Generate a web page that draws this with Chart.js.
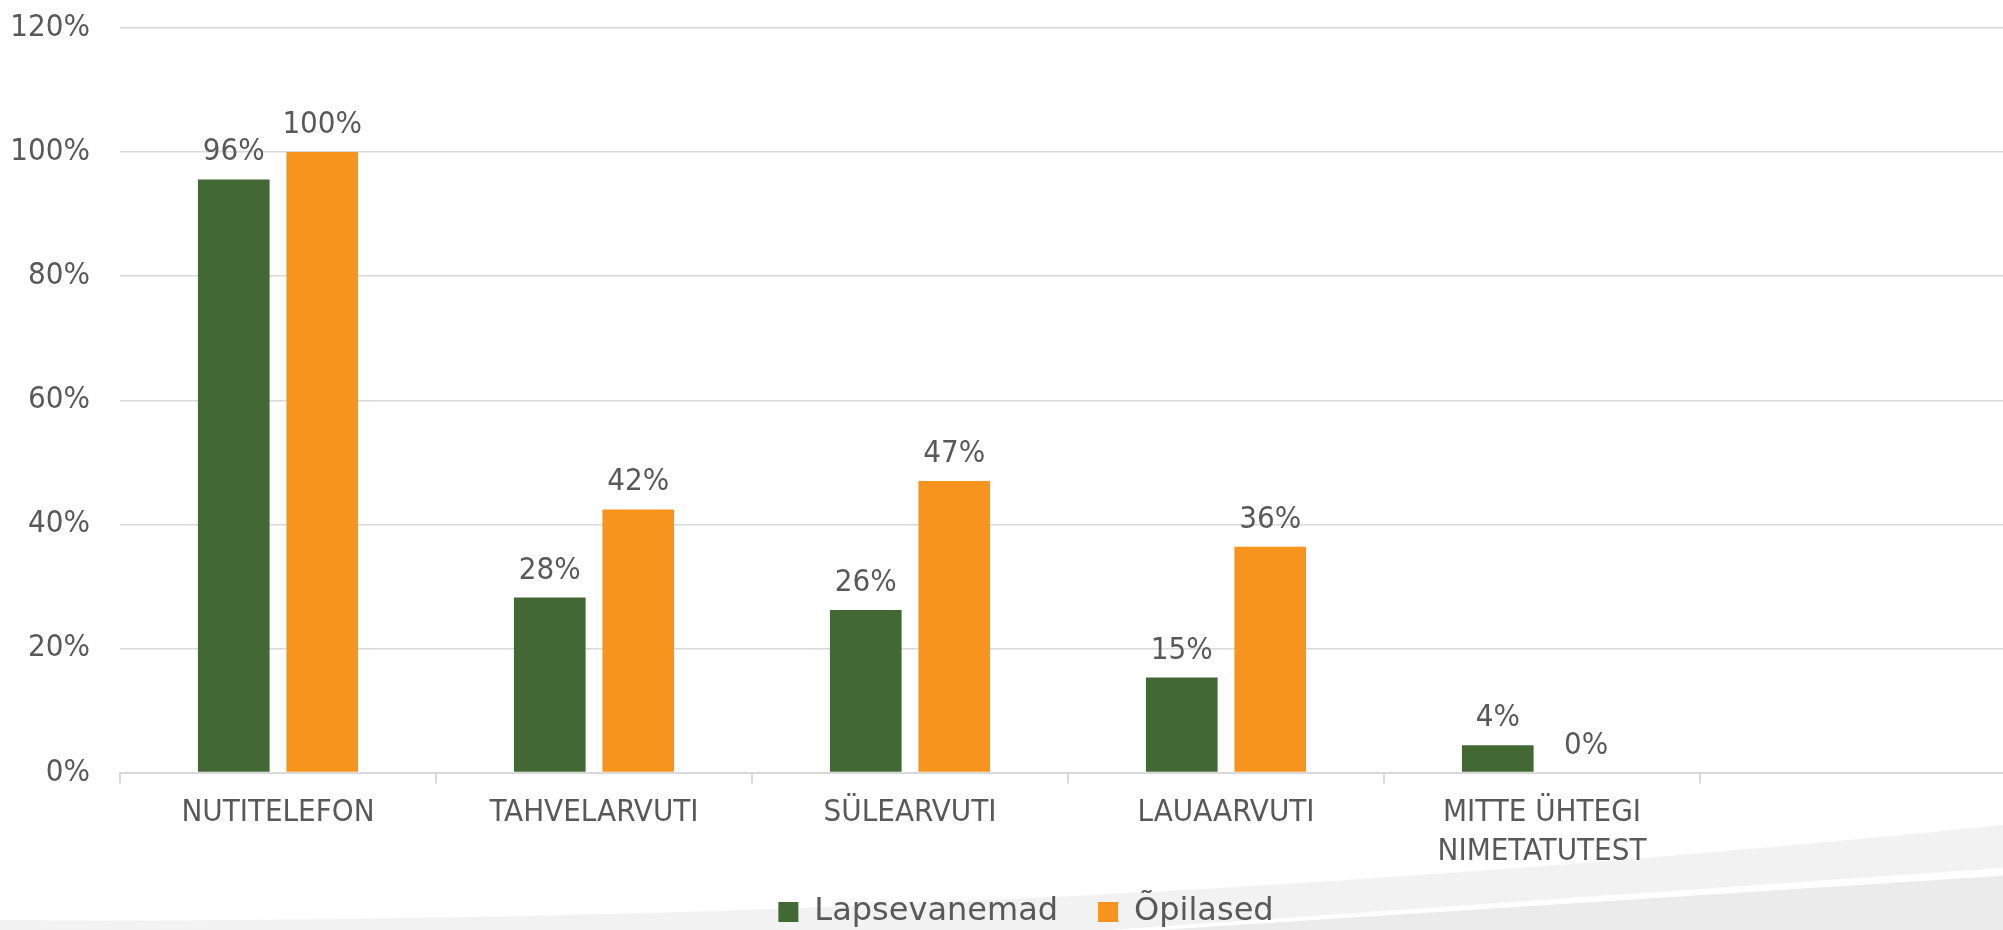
<!DOCTYPE html>
<html>
<head>
<meta charset="utf-8">
<script src="https://cdn.jsdelivr.net/npm/chart.js@4"></script>
<style>
  html, body { margin: 0; padding: 0; overflow: hidden; background: #fff; }
  canvas { display: block; }
</style>
</head>
<body>
<canvas id="graafik" width="2016" height="930"></canvas>
<script>
const kategooriad = ['NUTITELEFON', 'TAHVELARVUTI', 'SÜLEARVUTI', 'LAUAARVUTI', ['MITTE ÜHTEGI', 'NIMETATUTEST'], ''];
const lapsevanemad = [95.6, 28.2, 26.2, 15.3, 4.4];
const opilased = [100, 42.4, 47.0, 36.4, 0];
const yTicks = [0, 20, 40, 60, 80, 100, 120];

const tekstiVarv = '#595959';
const kitsasFont = "'Liberation Sans Narrow', 'DejaVu Sans Condensed', 'DejaVu Sans', sans-serif";

// hall kaar taustal, all servas
const taust = {
  id: 'taust',
  beforeDraw(chart) {
    const c = chart.ctx, w = chart.width, h = chart.height;
    c.save();
    c.fillStyle = '#fff';
    c.fillRect(0, 0, w, h);
    c.fillStyle = '#F2F2F2';
    c.beginPath();
    c.moveTo(0, 920);
    c.quadraticCurveTo(w / 2, 926.8, w, 823.8);
    c.lineTo(w, h);
    c.lineTo(0, h);
    c.closePath();
    c.fill();
    // valge triip
    c.fillStyle = '#fff';
    c.beginPath();
    c.moveTo(1110, h);
    c.lineTo(w, 867);
    c.lineTo(w, 875);
    c.lineTo(1160, h);
    c.closePath();
    c.fill();
    c.fillStyle = '#EBEBEB';
    c.beginPath();
    c.moveTo(1160, h);
    c.lineTo(w, 875);
    c.lineTo(w, h);
    c.closePath();
    c.fill();
    c.restore();
  }
};

// protsendid tulpade kohale
const sildid = {
  id: 'sildid',
  afterDatasetsDraw(chart) {
    const c = chart.ctx;
    c.save();
    c.font = '31px ' + kitsasFont;
    c.fillStyle = tekstiVarv;
    c.textAlign = 'center';
    c.textBaseline = 'alphabetic';
    chart.data.datasets.forEach((ds, i) => {
      chart.getDatasetMeta(i).data.forEach((bar, j) => {
        c.fillText(Math.round(ds.data[j]) + '%', bar.x, bar.y - 19);
      });
    });
    c.restore();
  }
};

// legend veidi paremale ja alla
const legendiNihe = {
  id: 'legendiNihe',
  afterLayout(chart) {
    const L = chart.legend;
    if (!L) return;
    L.left += 18; L.right += 18;
    L.top -= 25; L.bottom -= 25;
  }
};

new Chart(document.getElementById('graafik'), {
  type: 'bar',
  data: {
    labels: kategooriad,
    datasets: [
      { label: 'Lapsevanemad', data: lapsevanemad, backgroundColor: '#426934' },
      { label: 'Õpilased', data: opilased, backgroundColor: '#F7941D' }
    ]
  },
  options: {
    responsive: false,
    animation: false,
    categoryPercentage: 0.56,
    barPercentage: 0.81,
    layout: { padding: { left: 0, top: 28, right: 0, bottom: -33 } },
    plugins: {
      legend: {
        position: 'bottom',
        labels: {
          boxWidth: 20,
          boxHeight: 20,
          padding: 40,
          color: tekstiVarv,
          font: { size: 32, family: "'DejaVu Sans', sans-serif" }
        }
      },
      tooltip: { enabled: false }
    },
    scales: {
      x: {
        grid: { drawOnChartArea: false, drawTicks: true, tickLength: 11, color: '#D9D9D9', lineWidth: 2 },
        border: { color: '#D9D9D9', width: 2 },
        ticks: { color: tekstiVarv, font: { size: 31, family: kitsasFont, lineHeight: 1.25 }, padding: 10, maxRotation: 0, autoSkip: false }
      },
      y: {
        min: 0,
        max: 120,
        afterFit(s) { s.width = 120; },
        afterBuildTicks(s) { s.ticks = yTicks.map(v => ({ value: v })); },
        grid: { color: '#D9D9D9', lineWidth: 1.5, drawTicks: true, tickLength: 30, tickColor: 'rgba(0,0,0,0)' },
        border: { display: false },
        ticks: { color: tekstiVarv, font: { size: 31, family: kitsasFont }, padding: 0, callback: v => v + '%' }
      }
    }
  },
  plugins: [taust, sildid, legendiNihe]
});
</script>
</body>
</html>
